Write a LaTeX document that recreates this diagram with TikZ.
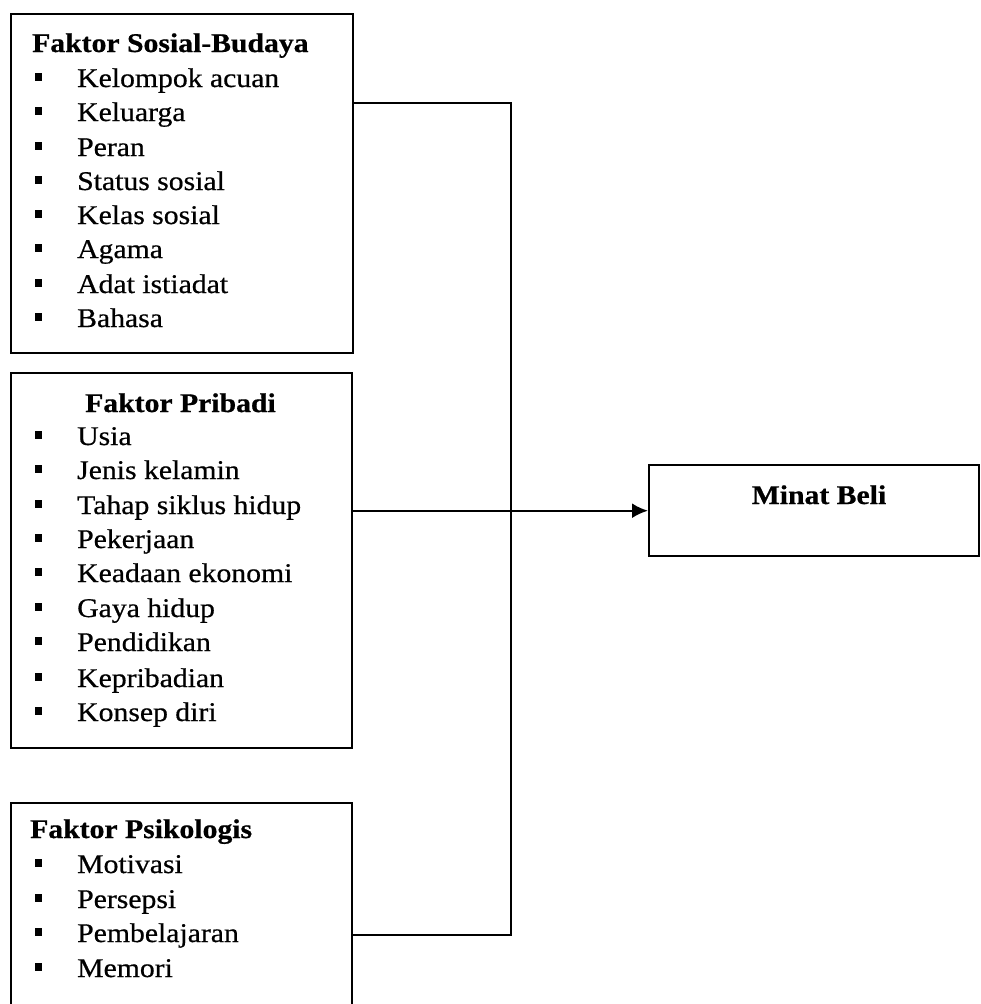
\documentclass[tikz,border=0pt]{standalone}
\usepackage{fontspec}
\setmainfont{Liberation Serif}[FakeStretch=1.1,FakeBold=0.6]
\newfontfamily\itemfont{Liberation Serif}[FakeStretch=1.1,FakeBold=0.6]
\usetikzlibrary{arrows.meta}
\begin{document}
\begin{tikzpicture}[x=1pt,y=-1pt,
  box/.style={draw, line width=2.4pt, inner sep=0pt, anchor=north west},
  hd/.style={anchor=base west, inner sep=0pt, font=\fontsize{27}{32}\selectfont\bfseries},
  itm/.style={anchor=base west, inner sep=0pt, font=\fontsize{27}{32}\selectfont\itemfont},
  bul/.style={fill=black, inner sep=0pt, minimum width=7pt, minimum height=8pt},
  conn/.style={line width=2.4pt}]
\useasboundingbox (0,0) rectangle (980,1004);
\clip (0,0) rectangle (980,1004);
% boxes
\node[box, minimum width=342pt, minimum height=339pt] (s1) at (10,13) {};
\node[box, minimum width=341pt, minimum height=375pt] (s2) at (10,372) {};
\node[box, minimum width=341pt, minimum height=215pt] (s3) at (10,802) {};
\node[box, minimum width=330pt, minimum height=91pt] (mb) at (648,464) {};
% headings
\node[hd] (h1) at (32,52) {Faktor Sosial-Budaya};
\node[hd] (h2) at (85,412) {Faktor Pribadi};
\node[hd] (h3) at (30,838) {Faktor Psikologis};
\node[hd, anchor=base] (hm) at (819,504) {Minat Beli};
% items
\foreach \t/\y [count=\i] in {Kelompok acuan/87, Keluarga/121, Peran/156, Status sosial/190, Kelas sosial/224, Agama/258, Adat istiadat/293, Bahasa/327}{
  \node[itm] (a\i) at (77,\y) {\t};
  \node[bul] (ab\i) at (38,\y-10) {};
}
\foreach \t/\y [count=\i] in {Usia/445, Jenis kelamin/479, Tahap siklus hidup/514, Pekerjaan/548, Keadaan ekonomi/582, Gaya hidup/617, Pendidikan/651, Kepribadian/687, Konsep diri/721}{
  \node[itm] (b\i) at (77,\y) {\t};
  \node[bul] (bb\i) at (38,\y-10) {};
}
\foreach \t/\y [count=\i] in {Motivasi/873, Persepsi/908, Pembelajaran/942, Memori/977}{
  \node[itm] (c\i) at (77,\y) {\t};
  \node[bul] (cb\i) at (38,\y-10) {};
}
% connectors
\coordinate (j1) at (511,103);
\coordinate (j2) at (511,935);
\draw[conn] (s1.east |- j1) -- (j1) -- (j2) -- (s3.east |- j2);
\draw[conn,-{Latex[length=16pt,width=15pt]}] (s2.east |- mb.west) -- (mb.west);
\end{tikzpicture}
\end{document}
